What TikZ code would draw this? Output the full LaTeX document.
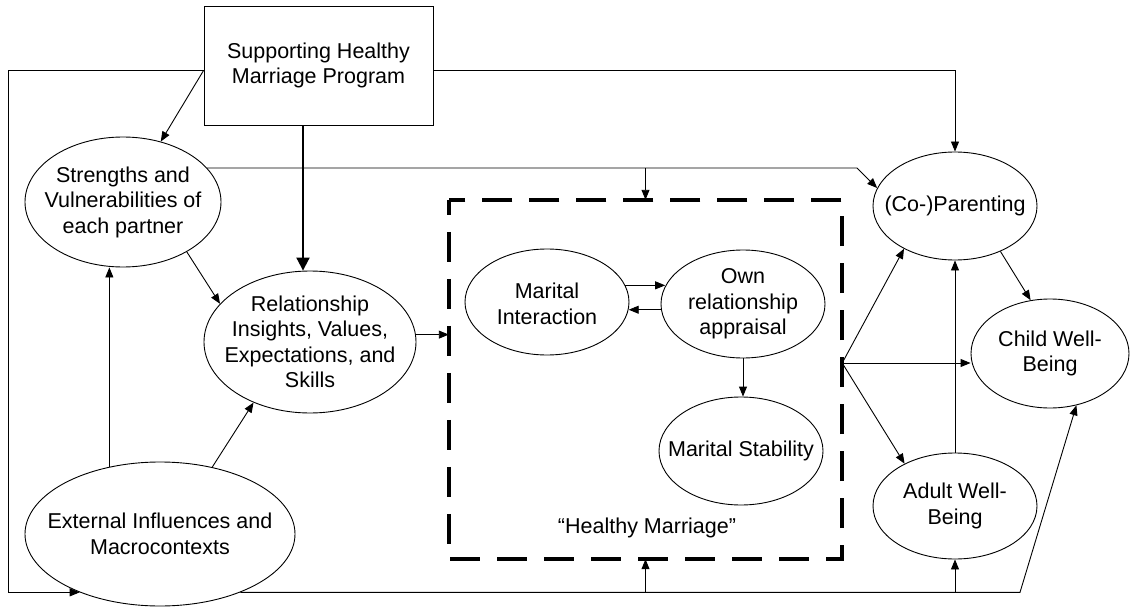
\documentclass[tikz,border=0pt]{standalone}
\usepackage{fontspec}
\setmainfont{Liberation Sans}
\usetikzlibrary{arrows.meta,calc,shapes.geometric}
\begin{document}
\begin{tikzpicture}[x=1pt,y=-1pt,
  every node/.style={font=\fontsize{21.5}{25.5}\selectfont},
  ell/.style={draw, ellipse, inner sep=0pt, line width=0.9pt},
  lbl/.style={align=center, inner sep=0pt},
  arr/.style={line width=0.9pt, -{Triangle[length=10pt,width=8pt]}},
  bigarr/.style={line width=2pt, -{Triangle[length=13pt,width=13pt]}},
  hmdash/.style={line width=3.5pt, dash pattern=on 30pt off 17pt, dash phase=15pt},
]
\useasboundingbox (0,0) rectangle (1130,607);

% nodes
\node[draw, line width=0.9pt, minimum width=229pt, minimum height=119pt, inner sep=0pt, align=center] (prog) at (318.5,65.5) {Supporting Healthy\\Marriage Program};

\node[ell, minimum width=196pt, minimum height=130pt] (str) at (123,202) {};
\node[lbl] (strT) at (str) {Strengths and\\Vulnerabilities of\\each partner};

\node[ell, minimum width=212pt, minimum height=142pt] (rel) at (310,342) {};
\node[lbl] (relT) at (rel) {Relationship\\Insights, Values,\\Expectations, and\\Skills};

\node[ell, minimum width=270pt, minimum height=144pt] (ext) at (160,534) {};
\node[lbl] (extT) at (ext) {External Influences and\\Macrocontexts};

\node[minimum width=393pt, minimum height=359pt, inner sep=0pt] (hm) at (645.5,379.5) {};
\draw[hmdash] (hm.north west) rectangle (hm.south east);
\node[lbl] (hmT) at (647,528) {“Healthy Marriage”};

\node[ell, minimum width=164pt, minimum height=106pt] (mi) at (547,302) {};
\node[lbl] (miT) at (547,304) {Marital\\Interaction};

\node[ell, minimum width=164pt, minimum height=108pt] (own) at (743,304) {};
\node[lbl] (ownT) at (own) {Own\\relationship\\appraisal};

\node[ell, minimum width=164pt, minimum height=108pt] (stab) at (741,451) {};
\node[lbl] (stabT) at (stab) {Marital Stability};

\node[ell, minimum width=164pt, minimum height=108pt] (cop) at (955,206) {};
\node[lbl] (copT) at (cop) {(Co-)Parenting};

\node[ell, minimum width=158pt, minimum height=109pt] (child) at (1050,353.5) {};
\node[lbl] (childT) at (child) {Child Well-\\Being};

\node[ell, minimum width=164pt, minimum height=106pt] (adult) at (955,506) {};
\node[lbl] (adultT) at (adult) {Adult Well-\\Being};

% connectors
\coordinate (pl) at ($(prog.west)+(0,5)$);
\coordinate (pr) at ($(prog.east)+(0,4.5)$);
\coordinate (pb) at ($(prog.south)+(-15.5,0)$);
\draw[arr] (pl) -- (str.58);
\draw[arr] (pl) -- ++(-195,0) |- (ext.216);
\draw[arr] (pr) -| (cop.north);
\draw[bigarr] (pb) -- (pb |- rel.north);

\coordinate (sj) at (str.22);
\coordinate (sk) at (857,168);
\draw[arr] (sj) -- (sk) -- (cop.167);
\draw[arr] (hm.north |- sj) -- (hm.north);

\draw[arr] (str.322) -- (rel.157);
\draw[arr] (ext.127) -- (ext.127 |- str.south);
\draw[arr] (ext.52) -- (rel.227);
\draw[arr] (rel.4) -- (rel.4 -| hm.west);

\draw[arr] (mi.12) -- (mi.12 -| own.167);
\draw[arr] (own.184) -- (own.184 -| mi.355);
\draw[arr] (own.south) -- (own.south |- stab.north);

\coordinate (j2) at ($(hm.east)+(0,-16.5)$);
\draw[arr] (j2) -- (cop.220);
\draw[arr] (j2) -- (j2 -| child.west);
\draw[arr] (j2) -- (adult.140);
\draw[arr] (adult.north) -- (cop.south);
\draw[arr] (cop.315) -- (child.110);

\coordinate (bc) at (1020,592);
\draw[arr] (ext.324) -- (ext.324 -| bc) -- (child.297);
\draw[arr] (hm.south |- bc) -- (hm.south);
\draw[arr] (adult.south |- bc) -- (adult.south);
\end{tikzpicture}
\end{document}
